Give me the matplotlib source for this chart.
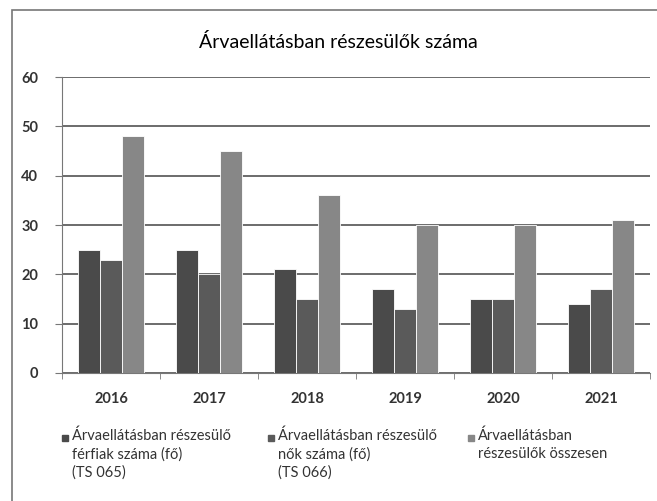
import matplotlib.pyplot as plt
import numpy as np
from matplotlib.patches import Rectangle

plt.rcParams['font.family'] = ['Lato', 'DejaVu Sans']

years = ['2016', '2017', '2018', '2019', '2020', '2021']
ferfiak = [25, 25, 21, 17, 15, 14]
nok = [23, 20, 15, 13, 15, 17]
osszesen = [48, 45, 36, 30, 30, 31]

labels = ['Árvaellátásban részesülő\nférfiak száma (fő)\n(TS 065)',
          'Árvaellátásban részesülő\nnők száma (fő)\n(TS 066)',
          'Árvaellátásban\nrészesülők összesen']
colors = ['#4a4a4a', '#5a5a5a', '#878787']
title = 'Árvaellátásban részesülők száma'

fig = plt.figure(figsize=(6.57, 5.01), dpi=100)
ax = fig.add_axes([62/657, 1 - 373/501, (650 - 62)/657, (373 - 77)/501])

# outer chart frame
fig.patches.append(Rectangle((12/657, -0.1), 1.2, 1.1 - 10/501, transform=fig.transFigure,
                             fill=False, edgecolor='#777777', linewidth=1.2))

x = np.arange(len(years))
w = 0.225
series = [ferfiak, nok, osszesen]
for i, vals in enumerate(series):
    ax.bar(x + (i - 1) * w, vals, w, color=colors[i], edgecolor='white', linewidth=0.6, zorder=3)

ax.set_xlim(-0.5, len(years) - 0.5)
ax.set_ylim(0, 60)
ax.set_yticks(range(0, 61, 10))
ax.yaxis.grid(True, color='#444444', linewidth=1.1, zorder=0)
ax.set_xticks(x)
ax.set_xticklabels(years, fontsize=10.5, fontweight='bold', color='#333333')
ax.set_xticks(np.arange(-0.5, len(years)), minor=True)
ax.tick_params(axis='x', which='major', length=0, pad=14)
ax.tick_params(axis='x', which='minor', length=4, color='#777777')
ax.tick_params(axis='y', length=5, color='#777777', labelsize=10.5, pad=12)
for t in ax.get_yticklabels():
    t.set_fontweight('bold')
    t.set_color('#333333')
for s in ['top', 'right']:
    ax.spines[s].set_visible(False)
ax.spines['left'].set_color('#777777')
ax.spines['bottom'].set_color('#777777')

fig.text(338/657, 1 - 42/501, title, ha='center', va='center', fontsize=14)

# legend
leg_x = [62, 268, 468]
for i, lab in enumerate(labels):
    fig.patches.append(Rectangle((leg_x[i]/657, 1 - 441/501), 6/657, 6/501,
                                 transform=fig.transFigure, color=colors[i]))
    fig.text((leg_x[i] + 10)/657, 1 - 429/501, lab, ha='left', va='top',
             fontsize=10.5, linespacing=1.35, color='#333333')

fig.savefig('out.png', dpi=100)
